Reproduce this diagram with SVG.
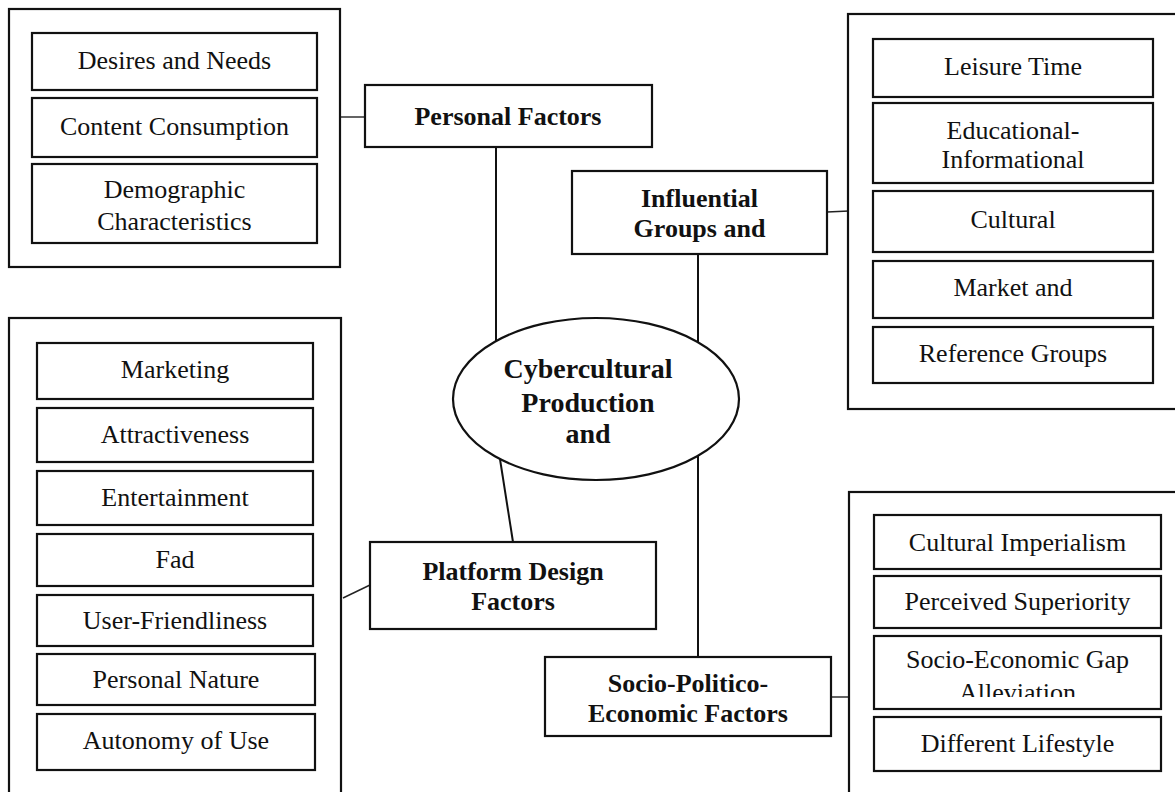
<svg xmlns="http://www.w3.org/2000/svg" width="1175" height="792" viewBox="0 0 1175 792">
<defs>
<style>
.outer{fill:none;stroke:#111;stroke-width:2.2}
.box{fill:#fff;stroke:#111;stroke-width:2.2}
.ell{fill:#fff;stroke:#111;stroke-width:2.2}
.ln{fill:none;stroke:#111;stroke-width:2}
.thin{fill:none;stroke:#222;stroke-width:1.4}
.t{font-family:"Liberation Serif","Times New Roman",serif;font-size:26px;fill:#111;text-anchor:middle}
.b{font-family:"Liberation Serif","Times New Roman",serif;font-size:26px;font-weight:bold;fill:#111;text-anchor:middle}
.bc{font-family:"Liberation Serif","Times New Roman",serif;font-size:28px;font-weight:bold;fill:#111;text-anchor:middle}
</style>
<clipPath id="clipGap"><rect x="874" y="636" width="287" height="61"/></clipPath>
</defs>
<rect width="1175" height="792" fill="#fff"/>

<g id="connectors">
<line class="thin" x1="340" y1="117" x2="365" y2="117"/>
<line class="ln" x1="496" y1="147" x2="496" y2="360"/>
<line class="thin" x1="827" y1="212" x2="849" y2="211"/>
<line class="ln" x1="698" y1="254" x2="698" y2="657"/>
<line class="ln" x1="497" y1="440" x2="513" y2="542"/>
<line class="thin" x1="343" y1="598" x2="370" y2="585"/>
<line class="thin" x1="831" y1="697" x2="850" y2="697"/>
</g>

<g id="personal-items">
<rect class="outer" x="9" y="9" width="331" height="258"/>
<rect class="box" x="32" y="33" width="285" height="57"/>
<text class="t" x="174.5" y="69">Desires and Needs</text>
<rect class="box" x="32" y="98" width="285" height="59"/>
<text class="t" x="174.5" y="135">Content Consumption</text>
<rect class="box" x="32" y="164" width="285" height="79"/>
<text class="t" x="174.5" y="198">Demographic</text>
<text class="t" x="174.5" y="230">Characteristics</text>
</g>

<g id="personal-factors">
<rect class="box" x="365" y="85" width="287" height="62"/>
<text class="b" x="508" y="125">Personal Factors</text>
</g>

<g id="influential-groups">
<rect class="box" x="572" y="171" width="255" height="83"/>
<text class="b" x="699.5" y="207">Influential</text>
<text class="b" x="699.5" y="237">Groups and</text>
</g>

<g id="influential-items">
<rect class="outer" x="848" y="14" width="330" height="395"/>
<rect class="box" x="873" y="39" width="280" height="58"/>
<text class="t" x="1013" y="75">Leisure Time</text>
<rect class="box" x="873" y="103" width="280" height="80"/>
<text class="t" x="1013" y="139">Educational-</text>
<text class="t" x="1013" y="168">Informational</text>
<rect class="box" x="873" y="191" width="280" height="61"/>
<text class="t" x="1013" y="228">Cultural</text>
<rect class="box" x="873" y="261" width="280" height="57"/>
<text class="t" x="1013" y="296">Market and</text>
<rect class="box" x="873" y="327" width="280" height="56"/>
<text class="t" x="1013" y="362">Reference Groups</text>
</g>

<g id="center">
<ellipse class="ell" cx="596" cy="399" rx="143" ry="81"/>
<text class="bc" x="588" y="378">Cybercultural</text>
<text class="bc" x="588" y="412">Production</text>
<text class="bc" x="588" y="443">and</text>
</g>

<g id="platform-items">
<rect class="outer" x="9" y="318" width="332" height="490"/>
<rect class="box" x="37" y="343" width="276" height="56"/>
<text class="t" x="175" y="378">Marketing</text>
<rect class="box" x="37" y="408" width="276" height="54"/>
<text class="t" x="175" y="443">Attractiveness</text>
<rect class="box" x="37" y="471" width="276" height="54"/>
<text class="t" x="175" y="506">Entertainment</text>
<rect class="box" x="37" y="534" width="276" height="52"/>
<text class="t" x="175" y="568">Fad</text>
<rect class="box" x="37" y="595" width="276" height="51"/>
<text class="t" x="175" y="629">User-Friendliness</text>
<rect class="box" x="37" y="654" width="278" height="51"/>
<text class="t" x="176" y="688">Personal Nature</text>
<rect class="box" x="37" y="714" width="278" height="56"/>
<text class="t" x="176" y="749">Autonomy of Use</text>
</g>

<g id="platform-design">
<rect class="box" x="370" y="542" width="286" height="87"/>
<text class="b" x="513" y="580">Platform Design</text>
<text class="b" x="513" y="610">Factors</text>
</g>

<g id="socio-politico">
<rect class="box" x="545" y="657" width="286" height="79"/>
<text class="b" x="688" y="692">Socio-Politico-</text>
<text class="b" x="688" y="722">Economic Factors</text>
</g>

<g id="socio-items">
<rect class="outer" x="849" y="492" width="330" height="320"/>
<rect class="box" x="874" y="515" width="287" height="54"/>
<text class="t" x="1017.5" y="551">Cultural Imperialism</text>
<rect class="box" x="874" y="576" width="287" height="52"/>
<text class="t" x="1017.5" y="610">Perceived Superiority</text>
<rect class="box" x="874" y="636" width="287" height="73"/>
<g clip-path="url(#clipGap)">
<text class="t" x="1017.5" y="668">Socio-Economic Gap</text>
<text class="t" x="1017.5" y="701">Alleviation</text>
</g>
<rect class="box" x="874" y="717" width="287" height="54"/>
<text class="t" x="1017.5" y="752">Different Lifestyle</text>
</g>
</svg>
